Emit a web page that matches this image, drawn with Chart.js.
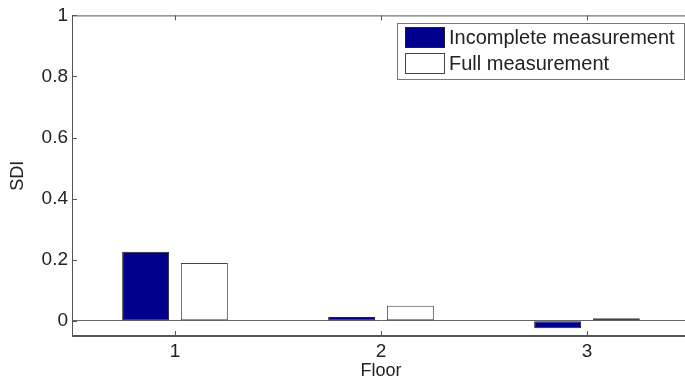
<!DOCTYPE html>
<html>
<head>
<meta charset="utf-8">
<script src="https://cdn.jsdelivr.net/npm/chart.js@4/dist/chart.umd.min.js"></script>
<style>
html,body{margin:0;padding:0;overflow:hidden;background:#fff;}
#wrap{width:700px;height:385px;}
</style>
</head>
<body>
<div id="wrap"><canvas id="c" width="700" height="385"></canvas></div>
<script>
const floors = ['1', '2', '3'];
const incomplete = [0.226, 0.012, -0.025];
const full = [0.189, 0.049, 0.008];
const yTicks = [0, 0.2, 0.4, 0.6, 0.8, 1];
const seriesNames = ['Incomplete measurement', 'Full measurement'];

const AXIS = '#555';
const TXT = '#222';
const FONT = "'Liberation Sans', Arial, Helvetica, sans-serif";

const boxPlugin = {
  id: 'boxTicks',
  afterDatasetsDraw(chart) {
    const {ctx, chartArea: a, scales: {x, y}} = chart;
    ctx.save();
    ctx.strokeStyle = AXIS;
    ctx.lineWidth = 1;
    ctx.strokeRect(a.left + 0.5, a.top + 0.5, a.right - a.left - 1, a.bottom - a.top - 1);
    ctx.beginPath();
    const L = 5;
    yTicks.forEach(v => {
      const py = Math.round(y.getPixelForValue(v)) + 0.5;
      ctx.moveTo(a.left, py); ctx.lineTo(a.left + L, py);
      ctx.moveTo(a.right, py); ctx.lineTo(a.right - L, py);
    });
    floors.forEach((f, i) => {
      const px = Math.round(x.getPixelForValue(i)) + 0.5;
      ctx.moveTo(px, a.bottom); ctx.lineTo(px, a.bottom - L);
      ctx.moveTo(px, a.top); ctx.lineTo(px, a.top + L);
    });
    ctx.stroke();
    ctx.restore();
  },
  afterDraw(chart) {
    const {ctx} = chart;
    const ds = chart.data.datasets;
    const bx = 397, by = 23, bw = 287, bh = 56;
    ctx.save();
    ctx.fillStyle = '#fff';
    ctx.fillRect(bx, by, bw, bh);
    ctx.strokeStyle = '#777';
    ctx.lineWidth = 1;
    ctx.strokeRect(bx + 0.5, by + 0.5, bw, bh);
    ctx.font = '20px ' + FONT;
    ctx.textBaseline = 'middle';
    ctx.textAlign = 'left';
    ds.forEach((d, i) => {
      const sy = 27 + i * 26;
      ctx.fillStyle = d.backgroundColor;
      ctx.fillRect(405, sy, 39, 20);
      ctx.strokeStyle = d.borderColor;
      ctx.strokeRect(405.5, sy + 0.5, 39, 20);
      ctx.fillStyle = TXT;
      ctx.fillText(d.label, 449, sy + 11);
    });
    ctx.restore();
  }
};

new Chart(document.getElementById('c'), {
  type: 'bar',
  data: {
    labels: floors,
    datasets: [
      {label: seriesNames[0], data: incomplete, backgroundColor: '#00008C', borderColor: '#222', borderWidth: 1, borderSkipped: false},
      {label: seriesNames[1], data: full, backgroundColor: '#ffffff', borderColor: '#444', borderWidth: 1, borderSkipped: false}
    ]
  },
  options: {
    responsive: false,
    animation: false,
    events: [],
    datasets: {bar: {categoryPercentage: 0.57, barPercentage: 0.8}},
    layout: {padding: {left: 0, right: 10, top: 15, bottom: 0}},
    plugins: {legend: {display: false}, tooltip: {enabled: false}},
    scales: {
      x: {
        grid: {display: false, drawTicks: false},
        border: {display: true, color: AXIS},
        ticks: {color: TXT, font: {family: FONT, size: 19}, padding: 4},
        title: {display: true, text: 'Floor', color: TXT, font: {family: FONT, size: 18}, padding: {top: 0, bottom: 3}},
        afterFit(s) { s.height = 49; }
      },
      y: {
        min: -0.05, max: 1,
        afterBuildTicks(s) { s.ticks = yTicks.map(v => ({value: v})); },
        grid: {drawTicks: false, color: c => (c.tick && c.tick.value === 0) ? '#666' : 'rgba(0,0,0,0)'},
        border: {display: true, color: AXIS},
        ticks: {color: TXT, font: {family: FONT, size: 19}, padding: 4, callback: v => String(v)},
        title: {display: true, text: 'SDI', color: TXT, font: {family: FONT, size: 18}, padding: {top: 7, bottom: 0}},
        afterFit(s) { s.width = 72; }
      }
    }
  },
  plugins: [boxPlugin]
});
</script>
</body>
</html>
